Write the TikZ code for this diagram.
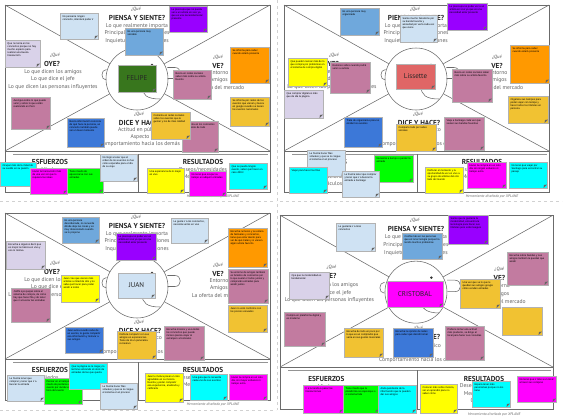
\documentclass[tikz,border=0pt]{standalone}
\usepackage{fontspec}
\setmainfont{PT Sans}
\newfontfamily\notefont{Liberation Sans}
\usetikzlibrary{shadows}
\definecolor{clblue}{HTML}{CFE2F3}
\definecolor{cmblue}{HTML}{6FA8DC}
\definecolor{csblue}{HTML}{3C78D8}
\definecolor{cpurple}{HTML}{9900FF}
\definecolor{clav}{HTML}{D9D2E9}
\definecolor{corange}{HTML}{FF9900}
\definecolor{cmauve}{HTML}{C27BA0}
\definecolor{cgold}{HTML}{F1C232}
\definecolor{ccyan}{HTML}{00FFFF}
\definecolor{cmag}{HTML}{FF00FF}
\definecolor{cgreen}{HTML}{00FF00}
\definecolor{cyellow}{HTML}{FFFF00}
\definecolor{cdgreen}{HTML}{38761D}
\definecolor{cred}{HTML}{E06666}
\tikzset{
  frame/.style={draw=black!58, line width=0.55pt},
  stripline/.style={draw=black!42, line width=1pt},
  headc/.style={circle, draw=black!58, line width=0.55pt, minimum size=62pt, inner sep=0pt},
  ttl/.style={font=\fontsize{7.2}{8}\selectfont\bfseries, text=black!85, inner sep=0pt},
  que/.style={font=\fontsize{4.6}{5}\selectfont\itshape, text=black!70, inner sep=0pt},
  sub/.style={font=\fontsize{5.6}{6}\selectfont, text=black!62, inner sep=0pt},
  foot/.style={font=\fontsize{3.7}{4}\selectfont\itshape, text=black!60, inner sep=0pt},
  bgdash/.style={draw=black!18, line width=0.8pt, dash pattern=on 3pt off 3pt},
  fold/.style={path picture={
    \fill[black!60] ([xshift=-3.5pt]path picture bounding box.south east)
      -- ([yshift=3.5pt]path picture bounding box.south east)
      -- ([xshift=-3pt,yshift=3pt]path picture bounding box.south east) -- cycle;}},
  note/.style={draw=black!30, line width=0.3pt, inner sep=2.5pt, outer sep=0pt,
    drop shadow={shadow xshift=0.5pt, shadow yshift=-0.6pt, opacity=0.25}, fold},
  namenote/.style={note, font=\fontsize{7}{7}\selectfont, text=black!85},
}
\newcommand\snote[7]{%
  \node[note, fill=#6, minimum width={(#4-#2)*1pt}, minimum height={(#5-#3)*1pt}]
    (#1) at ({(#2+#4)/2},{(#3+#5)/2})
    {\parbox[t][\dimexpr#5pt-#3pt-5pt\relax][t]{\dimexpr#4pt-#2pt-5pt\relax}{\notefont\fontsize{2.55}{3.1}\selectfont\raggedright #7}};
}
\newcommand\nnote[7]{%
  \node[namenote, fill=#6, minimum width={(#4-#2)*1pt}, minimum height={(#5-#3)*1pt}]
    (#1) at ({(#2+#4)/2},{(#3+#5)/2}) {#7};
}
\newcommand\emap[1]{%
  \draw[frame] (5,5) rectangle (270,192);
  \draw[frame] (5,151) -- (270,151);
  \draw[stripline] (13,154) -- (268,154);
  \draw[frame] (138,154) -- (138,192);
  \node[headc] (#1head) at (137,79) {};
  \coordinate (#1tl) at (5,5);
  \coordinate (#1tr) at (270,5);
  \coordinate (#1bl) at (5,151);
  \coordinate (#1br) at (270,151);
  \draw[frame] (#1tl) -- (#1head);
  \draw[frame] (#1tr) -- (#1head);
  \draw[frame] (#1bl) -- (#1head);
  \draw[frame] (#1br) -- (#1head);
  \draw[frame] (106.5,69.5) .. controls (100.5,69.5) and (100.5,80) .. (106.3,80);
  \draw[frame] (167.3,67.5) -- (175,67.5) .. controls (182,67.5) and (182,78.5) .. (175,78.5) -- (167.6,78.5);
  \draw[frame] (142,86) .. controls (142,95) and (147,99) .. (160,99);
  \fill[black!80] (152,65) circle (1.3);
  \node[que] (#1q1) at (136,9.5) {¿Qué};
  \node[ttl] (#1t1) at (137,18) {PIENSA Y SIENTE?};
  \node[sub] (#1s1a) at (137,26) {Lo que realmente importa};
  \node[sub] (#1s1b) at (137,33.5) {Principales preocupaciones};
  \node[sub] (#1s1c) at (137,41) {Inquietudes y aspiraciones};
  \node[que] (#1q2) at (55,55.5) {¿Qué};
  \node[ttl] (#1t2) at (52,63.5) {OYE?};
  \node[sub] (#1s2a) at (53,72) {Lo que dicen los amigos};
  \node[sub] (#1s2b) at (53,79.5) {Lo que dice el jefe};
  \node[sub] (#1s2c) at (53,87) {Lo que dicen las personas influyentes};
  \node[que] (#1q3) at (218,57) {¿Qué};
  \node[ttl] (#1t3) at (218,65.5) {VE?};
  \node[sub] (#1s3a) at (219,73) {Entorno};
  \node[sub] (#1s3b) at (219,80.5) {Amigos};
  \node[sub] (#1s3c) at (218,88) {La oferta del mercado};
  \node[que] (#1q4) at (139,114) {¿Qué};
  \node[ttl] (#1t4) at (140,122.5) {DICE Y HACE?};
  \node[sub] (#1s4a) at (140,130.5) {Actitud en público};
  \node[sub] (#1s4b) at (140,137.5) {Aspecto};
  \node[sub] (#1s4c) at (140,144.5) {Comportamiento hacia los demás};
  \node[ttl] (#1t5) at (50,162) {ESFUERZOS};
  \node[sub] (#1s5a) at (50,169.5) {Miedos};
  \node[sub] (#1s5b) at (50,176.5) {Frustraciones};
  \node[sub] (#1s5c) at (50,183.5) {Obstáculos};
  \node[ttl] (#1t6) at (203,162) {RESULTADOS};
  \node[sub] (#1s6a) at (203,169.5) {Deseos/necesidades};
  \node[sub] (#1s6b) at (203,176.5) {Medida del éxito};
  \node[sub] (#1s6c) at (203,183.5) {Obstáculos};
  \node[foot] (#1ft) at (213,197) {Herramienta diseñada por XPLANE};
}
\begin{document}
\begin{tikzpicture}[x=1pt,y=-1pt]
\useasboundingbox[fill=white] (0,0) rectangle (563,418);
\draw[bgdash] (0,201) -- (276,201);
\draw[bgdash] (280,201) -- (562,201);
\draw[bgdash] (0,410) -- (276,410);
\draw[bgdash] (277,0) -- (277,410);
\begin{scope}\emap{pa}\end{scope}
\begin{scope}[shift={(279,0)}]\emap{pb}\end{scope}
\begin{scope}[shift={(0,208)}]\emap{pc}\end{scope}
\begin{scope}[shift={(274.85,210)},xscale=1.03,yscale=1.04]\emap{pd}\end{scope}
% ---------- panel 1: FELIPE
\snote{aA}{60}{13}{98}{39}{clblue}{No pensaría ningún concierto, intentaré poder ir}
\snote{aB}{169}{6}{207}{32}{cpurple}{Le preocupa que no pueda ver a un artista en vivo ya que es una necesidad estar presente}
\snote{aC}{125}{28}{163}{55}{cmblue}{Es una persona muy sociable}
\snote{aD}{5}{40}{40}{67}{clav}{Que no tenía en los conciertos porque no hay mucho espacio para realizar una buena transacción}
\nnote{aN}{118}{65}{156}{92}{cdgreen}{FELIPE}
\snote{aF}{230}{47}{269}{83}{corange}{Se informa para saber cuando estará presente}
\snote{aG}{173}{70}{211}{99}{cmauve}{Busca en redes sociales saber más sobre su artista favorito}
\snote{aH}{11}{97}{50}{129}{cmauve}{Averigua sobre lo que puede venir y sobre lo que están realizando en Perú}
\snote{aI}{230}{97}{269}{126}{cgold}{Se informa por redes de los eventos que vienen y busca en google cuando se tienen los eventos nacionales}
\snote{aJ}{67}{118}{104}{147}{csblue}{Busca información concreta de qué hace la persona, un concierto también puede ser un buen momento}
\snote{aL}{182}{121}{218}{152}{cmauve}{Comenta en los conciertos que asiste de todo}
\snote{aK}{151}{112}{190}{139}{cgold}{Comenta en redes sociales sobre los eventos que le gustan y los de más calidad}
\snote{aM}{0}{162}{36}{186}{ccyan}{Ocupar más de la mitad de su sueldo en su pasión}
\snote{aO}{67}{168}{103}{193}{cgreen}{Tiene miedo de equivocarse con sus entradas}
\snote{aNn}{30}{168}{67}{194}{cmag}{Hacer la transacción más de una vez sin que lo requiera las ideas}
\snote{aP}{100}{154}{137}{181}{clblue}{No llegó a tener que el orden de los eventos no fue como esperaba para el día de su viaje}
\snote{aQ}{147}{168}{184}{193}{cyellow}{Una experiencia de lo mejor en vivo}
\snote{aR}{189}{171}{226}{196}{cmag}{No tener que ocupar su tiempo en adquirir entradas}
\snote{aS}{229}{163}{267}{189}{ccyan}{Que se pueda ningún evento, saber qué hacer en caso difícil}
% ---------- panel 2: Lissette
\snote{bA}{340}{8}{379}{35}{cmblue}{Es una persona muy organizada}
\snote{bB}{400}{15}{437}{42}{clblue}{Siente mucho fanatismo por su banda favorita y ansiedad por verla cada vez que viene}
\snote{bC}{447}{3}{487}{30}{cpurple}{Le preocupa no poder ver a un artista en vivo ya que es una necesidad estar presente}
\snote{bD}{288}{58}{327}{86}{cyellow}{Que pueden revisar más de lo que compra por problemas en el sistema de compra digital}
\snote{bE}{330}{62}{370}{93}{cmauve}{Rumores sobre cuando podrá venir su artista}
\snote{bF}{284}{90}{323}{118}{clav}{Que comprar digital es más que de ida la página}
\nnote{bN}{396}{64}{435}{89}{cred}{Lissette}
\snote{bH}{452}{69}{492}{102}{cmauve}{Busca en redes sociales saber más sobre su artista favorito}
\snote{bI}{510}{45}{549}{83}{corange}{Se informa para saber cuando estará presente}
\snote{bJ}{508}{96}{548}{123}{cgold}{Organiza sus tiempos para poder viajar con tiempo y hacer todos los trámites en persona}
\snote{bK}{344}{117}{382}{147}{csblue}{Trata de organizarse para no olvidar los eventos}
\snote{bL}{396}{124}{436}{151}{cgold}{Comparte todo por redes sociales}
\snote{bM}{444}{117}{484}{150}{cmauve}{Viaja a Santiago cada vez que vienen sus bandas favoritas}
\snote{bNn}{307}{150}{345}{176}{clblue}{Le frustra hacer filas virtuales y que se le cargue el sistema en el proceso}
\snote{bO}{289}{167}{327}{193}{ccyan}{Viajar para hacer las filas}
\snote{bQ}{374}{155}{413}{182}{cgreen}{Necesitar a tiempo o perder la entrada}
\snote{bP}{342}{171}{379}{197}{clblue}{Le frustra tener que comprar y tener que ir a buscar la entrada a Santiago}
\snote{bR}{425}{167}{463}{193}{cyellow}{Disfrutar el momento y la oportunidad de ver en vivo a su grupo de artistas del otro lado del mundo}
\snote{bS}{467}{162}{506}{188}{cmag}{Hacer la compra en un solo día sin ningún esfuerzo ni tiempo extra}
\snote{bT}{509}{162}{547}{188}{ccyan}{No tener que viajar por Santiago para encontrar su pasaje}
% ---------- panel 3: JUAN
\snote{cA}{62}{217}{99}{243}{cmblue}{Es una persona desordenada, no recuerda dónde deja las cosas y es muy obsesionado cuando se lo propone}
\snote{cB}{171}{218}{208}{243}{clblue}{Le gusta ir a los conciertos, necesita verlos en vivo}
\snote{cC}{116}{233}{156}{260}{cpurple}{Le preocupa no poder ver un artista en vivo ya que es una necesidad estar presente}
\snote{cD}{6}{241}{45}{269}{clav}{Escucha a algunos decir que es mejor la música en vivo y eso lo motiva}
\snote{cE}{228}{228}{267}{267}{corange}{Escucha rumores y se entera de festivales y conciertos, tiene que estar atento para ver de qué tratan y si vienen algún artista favorito}
\snote{cF}{61}{275}{99}{302}{cyellow}{Juan cree que vienen más artistas a mitad de año y no sabe qué hacer para poder asistir a todos}
\nnote{cN}{118}{273}{155}{298}{clblue}{JUAN}
\snote{cH}{228}{269}{268}{303}{cmauve}{Su entorno de amigos también es fanático de conciertos por lo que suelen ir todos juntos y comprarán entradas para asistir juntos}
\snote{cI}{11}{288}{50}{322}{cmauve}{JUAN oye quejas sobre el sistema de compra, de cómo hay que hacer fila y de tener que ir a buscar las entradas}
\snote{cJ}{228}{305}{267}{332}{cgold}{Juan no está conforme con los precios elevados}
\snote{cK}{65}{327}{103}{353}{csblue}{Juan avisa cuando sabe de un evento, le gusta compartir esa información y motivar a sus amigos}
\snote{cL}{117}{331}{156}{359}{cgold}{Disfruta compartir con sus amigos en experiencias. Tiene de él un panorama recreativo}
\snote{cM}{164}{326}{204}{360}{cmauve}{Escucha música y va a todos los conciertos que puede incluso piensa viajar al extranjero a festivales}
\snote{cNn}{7}{375}{44}{401}{clblue}{Le frustra tener que comprar y tener que ir a buscar la entrada}
\snote{cO}{44}{378}{82}{404}{cgreen}{Pensar en el tiempo, tener miedo de perderse un evento por olvidar el día o la hora del evento}
\snote{cP}{69}{363}{107}{389}{ccyan}{Que la página se le caiga y lo termine sobrando el stock de entradas de las que quería}
\snote{cQ}{100}{383}{137}{409}{clblue}{Le frustra hacer filas virtuales y que se le cargue el sistema en el proceso}
\snote{cR}{145}{373}{183}{402}{cyellow}{Juan le motiva pasar un rato agradable en su música favorita y poder compartir esa experiencia, analizarla y calificarla}
\snote{cS}{190}{374}{227}{400}{ccyan}{Una guía que le recuerde cada uno de sus eventos}
\snote{cT}{229}{374}{267}{400}{cmag}{Hacer la compra en un solo día, sin mayor esfuerzo ni tiempo extra}
% ---------- panel 4: CRISTOBAL
\snote{dA}{336}{223}{375}{251}{clblue}{Le gustaría ir a más conciertos}
\snote{dC}{448}{215}{488}{244}{cpurple}{Siente que le gustaría la modernidad, encuentra la tecnología para hacer sus trámites pero está inseguro}
\snote{dB}{402}{233}{442}{259}{cmblue}{Confía más en las personas que en la tecnología porque ha tenido muchos problemas}
\snote{dD}{507}{252}{548}{285}{cmauve}{Escucha sobre bandas y sus amigos también le quedan que asistir}
\snote{dE}{289}{272}{329}{299}{clav}{Oye que la modernidad es fundamental}
\nnote{dN}{387}{281}{443}{307}{cmag}{CRISTOBAL}
\snote{dG}{460}{279}{500}{308}{cgold}{Una vez que ve lo que le quedan sus amigos google cómo venden entradas}
\snote{dH}{502}{307}{542}{335}{cgold}{}
\snote{dI}{284}{312}{325}{346}{cmauve}{Compra en plataforma digital y es moderno}
\snote{dJ}{344}{328}{383}{357}{cgold}{Escucha de todo un poco por lo que es un comprador que varía en sus gustos musicales}
\snote{dK}{393}{328}{433}{357}{csblue}{Escucha la opinión de redes para saber qué decidir tomar}
\snote{dL}{445}{326}{484}{360}{cmauve}{Prefiere tomar una actitud más prudente, se dirige al local para hacer sus consultas}
\snote{dM}{303}{385}{343}{413}{cmag}{Ir a la tienda a pasar las transacciones}
\snote{dNn}{343}{385}{379}{413}{cgreen}{Tiene miedo que la plataforma se equivoque o el sistema falle}
\snote{dO}{378}{385}{416}{413}{ccyan}{Anda pendiente de la información que le pueden dar sus amigos}
\snote{dP}{420}{384}{457}{413}{cyellow}{Conocer más sobre música, ser un aprendiz para no saber cómo}
\snote{dQ}{472}{381}{510}{407}{ccyan}{Espera tener más panoramas porque no los tiene}
\snote{dR}{517}{376}{556}{402}{cmag}{No tener que ir más a un local a hacer sus compras}
\end{tikzpicture}
\end{document}
